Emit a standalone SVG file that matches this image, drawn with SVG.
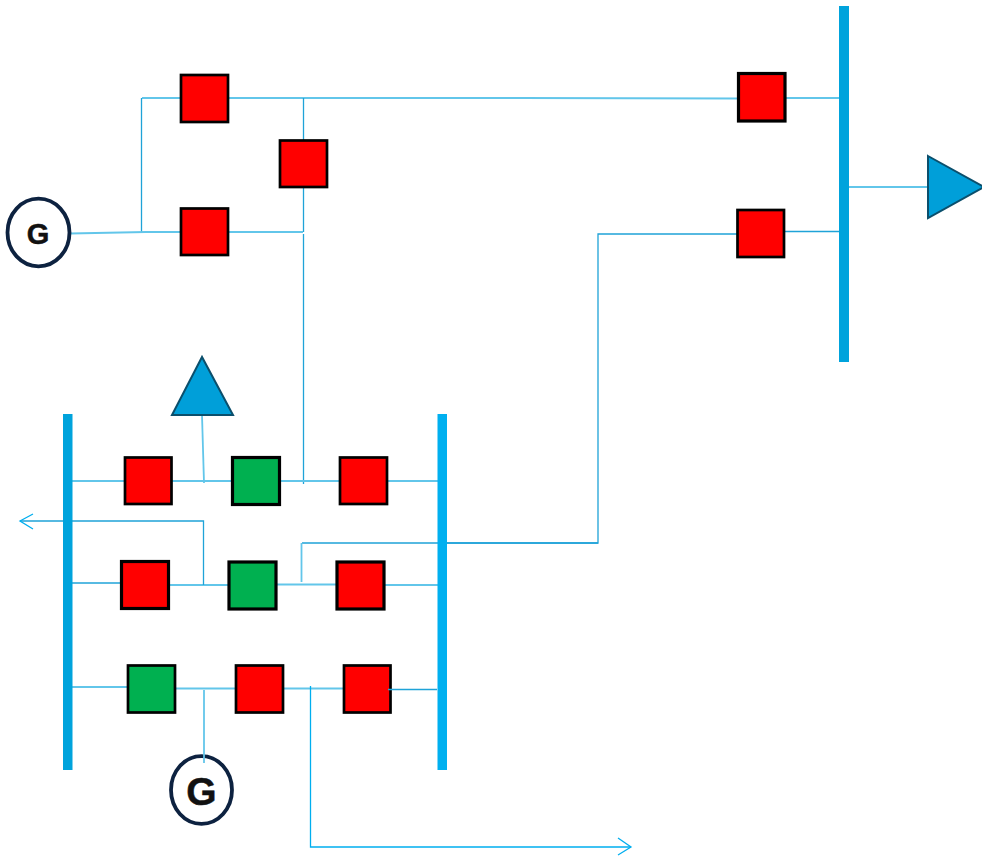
<svg xmlns="http://www.w3.org/2000/svg" width="982" height="856" viewBox="0 0 982 856">
<style>
.w{fill:none;stroke:#1fa3d8;stroke-width:1.3}
.l{fill:none;stroke:#62c6ea;stroke-width:1.8}
.b{fill:none;stroke:#00aeef;stroke-width:1.3}
.r{fill:#ff0000;stroke:#000;stroke-width:2.7}
.g{fill:#00b050;stroke:#000;stroke-width:2.7}
.th{stroke-width:3.2}
.t{fill:#009fd9;stroke:#0b4f6c;stroke-width:2}
.c{fill:#fff;stroke:#0d2240;stroke-width:3.8}
.bus1{fill:#00a3dc}
.bus2{fill:#00b0f0}
text{font-family:"Liberation Sans",Arial,sans-serif;font-weight:700;fill:#111;stroke:#111;stroke-width:.5;text-anchor:middle}
</style>
<g id="connectors">
<path class="l" d="M228 98H303"/>
<path class="l" d="M303 98H520L737 98.500"/>
<path class="l" d="M142 98H181"/>
<path class="w" d="M141.500 98V232"/>
<path class="w" d="M303.500 98V140"/>
<path class="w" d="M303.500 187V232"/>
<path class="w" d="M303.500 234V484"/>
<path class="l" d="M70 233.500L146 232H181"/>
<path class="l" d="M228 232H303"/>
<path class="l" d="M785 98H839"/>
<path class="w" d="M784 231.500H839"/>
<path class="w" d="M737 234H598V543H302"/>
<path class="l" d="M301.500 543V582"/>
<path class="w" d="M447 543H598"/>
<path class="l" d="M849 187H928"/>
<path class="l" d="M202 415L204 483"/>
<path class="l" d="M72 481H125"/>
<path class="l" d="M172 481H232"/>
<path class="l" d="M279 481H340"/>
<path class="l" d="M387 481H446"/>
<path class="w" d="M72 583H121"/>
<path class="l" d="M168 585H228"/>
<path class="l" d="M276 584.500H336"/>
<path class="l" d="M384 585H438"/>
<path class="w" d="M203.500 585V521H20"/>
<path class="b" d="M33 514L20 521L33 529"/>
<path class="l" d="M72 687H128"/>
<path class="l" d="M175 688.500H236"/>
<path class="l" d="M283 688.500H344"/>
<path class="b" d="M310.500 686V847H631"/>
<path class="b" d="M618 838L631 847L618 855"/>
</g>
<g id="bus-right"><rect class="bus1" x="839" y="6" width="10" height="356"/></g>
<g id="bus-left"><rect class="bus1" x="63" y="414" width="9.500" height="356"/></g>
<g id="bus-mid"><rect class="bus2" x="437.500" y="414" width="9.500" height="356"/></g>
<g id="load-right"><polygon class="t" points="928,156 984,187 928,218"/></g>
<g id="load-top"><polygon class="t" points="202,357 172,415 233,415"/></g>
<g id="gen-top"><ellipse class="c" cx="38.500" cy="232.500" rx="31" ry="33.800"/><text x="38" y="243.500" font-size="29">G</text></g>
<g id="gen-bottom"><ellipse class="c" cx="201.500" cy="790" rx="30.500" ry="33.800"/><text x="201.500" y="805" font-size="39">G</text></g>
<g id="s1"><rect class="r" x="181" y="75" width="47" height="47"/></g>
<g id="s2"><rect class="r" x="280" y="140.500" width="47" height="46.500"/></g>
<g id="s3"><rect class="r" x="181" y="208.500" width="47" height="46.500"/></g>
<g id="s4"><rect class="r th" x="738.500" y="73.500" width="46.500" height="47.500"/></g>
<g id="s5"><rect class="r" x="737.500" y="210" width="46.500" height="47"/></g>
<g id="s6"><rect class="r" x="125" y="457.500" width="46.500" height="46.500"/></g>
<g id="s7"><rect class="g th" x="232.500" y="457.500" width="47" height="47"/></g>
<g id="s8"><rect class="r" x="340" y="457.500" width="47" height="46.500"/></g>
<g id="s9"><rect class="r th" x="121.500" y="561.500" width="47" height="47"/></g>
<g id="s10"><rect class="g th" x="229" y="562" width="47" height="47"/></g>
<g id="s11"><rect class="r th" x="337" y="562" width="47" height="47"/></g>
<g id="s12"><rect class="g" x="128" y="665.500" width="47" height="47"/></g>
<g id="s13"><rect class="r" x="236" y="665.500" width="47" height="47"/></g>
<g id="s14"><rect class="r" x="344" y="665.500" width="46.500" height="47"/></g>
<g id="overlays">
<path class="w" d="M388 689.500H437" stroke-width="1.600"/>
<path class="l" d="M204 690V763"/>
</g>
</svg>
